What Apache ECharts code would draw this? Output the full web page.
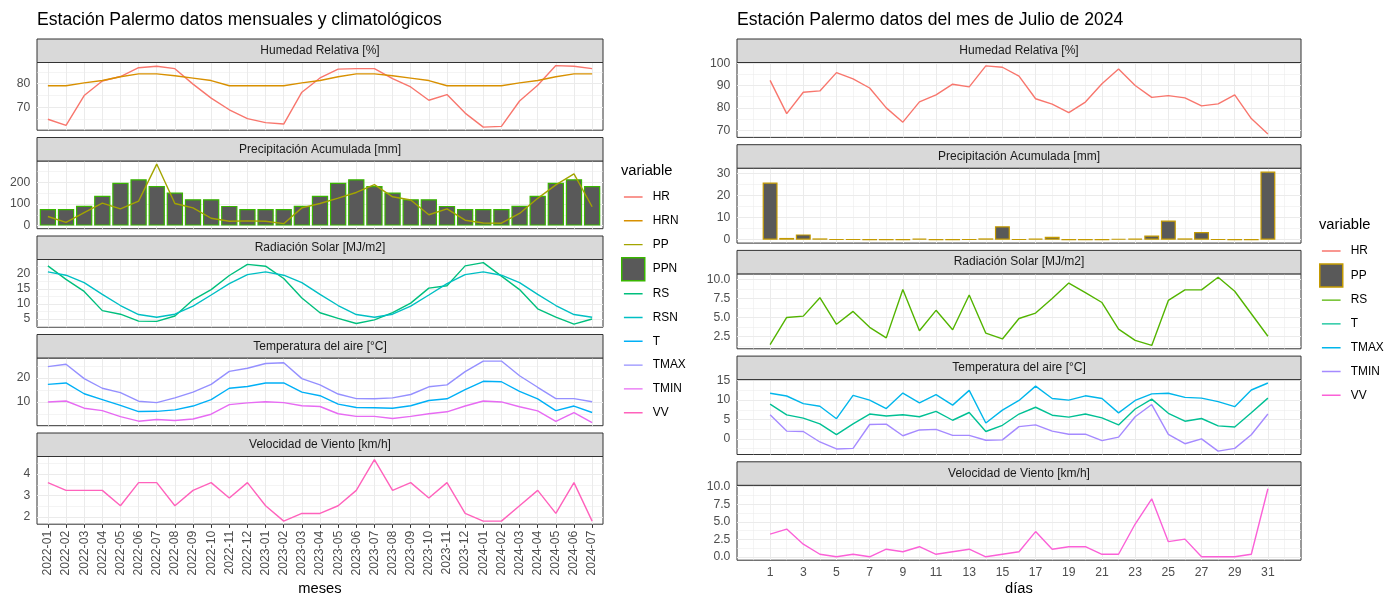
<!DOCTYPE html>
<html><head><meta charset="utf-8">
<script src="https://cdn.jsdelivr.net/npm/echarts@6/dist/echarts.min.js"></script>
<style>html,body{margin:0;padding:0;background:#fff}#c{width:1386px;height:595px}</style>
</head><body><div id="c"></div>
<script>
// ---------- DATA: monthly (left) ----------
const months = ['2022-01','2022-02','2022-03','2022-04','2022-05','2022-06','2022-07','2022-08','2022-09','2022-10','2022-11','2022-12','2023-01','2023-02','2023-03','2023-04','2023-05','2023-06','2023-07','2023-08','2023-09','2023-10','2023-11','2023-12','2024-01','2024-02','2024-03','2024-04','2024-05','2024-06','2024-07'];
const HR_m   = [65.0,62.4,75.0,81.1,83.0,86.7,87.3,86.3,79.8,73.9,69.0,65.3,63.6,63.0,76.4,82.4,86.1,86.3,86.3,82.1,78.6,73.0,75.4,67.6,61.7,62.0,72.7,79.3,87.6,87.3,86.3];
const HRN_m  = [79.1,79.1,80.3,81.3,82.9,84.1,84.1,83.3,82.3,81.3,79.1,79.1,79.1,79.1,80.3,81.3,82.9,84.1,84.1,83.3,82.3,81.3,79.1,79.1,79.1,79.1,80.3,81.3,82.9,84.1,84.1];
const PP_m   = [42,15,60,104,77,113,284,102,82,34,20,22,20,9,82,102,127,153,189,133,118,50,77,25,12,11,56,126,188,239,87];
const PPN_m  = [77,77,92,138,198,214,183,153,122,122,91,77,77,77,92,138,198,214,183,153,122,122,91,77,77,77,92,138,198,214,183];
const RS_m   = [22.7,18.2,14.2,7.8,6.6,4.3,4.2,6.0,11.4,14.8,19.5,23.2,22.6,18.5,12.0,7.1,5.2,3.5,4.7,7.1,10.3,15.3,16.1,22.7,23.8,19.3,14.8,8.4,5.6,3.3,5.0];
const RSN_m  = [20.7,19.6,17.1,13.2,9.5,6.5,5.6,6.6,9.3,13.0,16.8,19.8,20.7,19.6,17.1,13.2,9.5,6.5,5.6,6.6,9.3,13.0,16.8,19.8,20.7,19.6,17.1,13.2,9.5,6.5,5.6];
const T_m    = [17.3,17.9,13.4,11.0,8.6,6.0,6.1,6.7,8.3,11.0,15.7,16.4,17.9,17.9,14.1,12.6,9.1,7.7,7.6,7.4,8.4,10.6,11.3,15.1,18.6,18.4,14.4,11.3,6.4,8.3,5.6];
const TMAX_m = [24.7,25.7,19.7,15.7,13.9,10.3,9.7,11.7,14.1,17.3,22.7,24.0,26.0,26.3,19.7,17.1,13.3,11.4,11.3,11.7,13.1,16.3,17.1,22.6,27.0,27.0,20.9,16.1,11.4,11.4,10.1];
const TMIN_m = [10.0,10.4,7.4,6.4,3.9,2.0,2.7,2.3,2.9,4.9,8.9,9.6,10.1,9.7,8.4,8.1,5.1,4.0,4.0,3.1,4.0,5.1,5.9,8.3,10.4,10.0,8.0,6.3,1.9,5.6,1.4];
const VV_m   = [3.6,3.24,3.24,3.24,2.52,3.6,3.6,2.52,3.24,3.6,2.88,3.6,2.52,1.8,2.16,2.16,2.52,3.24,4.68,3.24,3.6,2.88,3.6,2.16,1.8,1.8,2.52,3.24,2.16,3.6,1.8];

// ---------- DATA: daily July 2024 (right) ----------
const days   = [1,2,3,4,5,6,7,8,9,10,11,12,13,14,15,16,17,18,19,20,21,22,23,24,25,26,27,28,29,30,31];
const HR_d   = [92.3,77.4,87.0,87.6,95.8,93.0,88.9,80.0,73.6,82.7,85.8,90.6,89.4,98.8,98.2,94.2,84.1,81.7,77.9,82.6,90.8,97.4,90.0,84.7,85.5,84.5,80.9,81.8,85.8,75.2,68.3];
const PP_d   = [25.9,0.8,2.4,0.6,0.2,0.2,0.1,0.1,0.1,0.5,0.1,0.1,0.2,0.6,6.1,0.2,0.5,1.3,0.1,0.1,0.1,0.4,0.5,1.9,8.7,0.6,3.5,0.2,0.1,0.1,30.9];
const RS_d   = [1.39,4.98,5.16,7.58,4.08,5.78,3.68,2.29,8.65,3.23,5.92,3.36,7.94,2.91,2.15,4.84,5.56,7.49,9.51,8.25,6.95,3.45,1.97,1.30,7.22,8.61,8.61,10.27,8.43,5.47,2.51];
const TMAX_d = [11.75,11.05,9.1,8.4,5.2,11.2,10.0,7.8,11.8,9.3,11.4,8.7,12.5,4.1,7.4,9.9,13.6,10.4,10.0,11.1,10.4,6.7,9.9,11.6,11.75,10.7,10.5,9.6,8.3,12.6,14.4];
const T_d    = [8.95,6.2,5.35,3.85,1.1,3.85,6.4,5.9,6.2,5.7,7.1,4.8,6.8,1.9,3.5,6.4,8.15,6.1,5.6,6.4,5.4,3.6,7.7,10.25,6.6,4.55,5.25,3.35,3.05,6.75,10.5];
const TMIN_d = [6.2,2.0,1.9,-0.8,-2.6,-2.45,3.7,3.8,0.8,2.3,2.45,0.9,0.9,-0.35,-0.25,3.15,3.6,2.0,1.2,1.2,-0.45,0.45,5.7,8.85,1.15,-1.25,0.0,-3.15,-2.45,1.05,6.4];
const VV_d   = [3.24,3.96,1.8,0.36,0,0.36,0,1.08,0.72,1.44,0.36,0.72,1.08,0,0.36,0.72,3.6,1.08,1.44,1.44,0.36,0.36,4.68,8.28,2.16,2.52,0,0,0,0.36,9.72];

// ---------- tick values ----------
const dayTicks   = [1,3,5,7,9,11,13,15,17,19,21,23,25,27,29,31];
const dayMinor   = [0,2,4,6,8,10,12,14,16,18,20,22,24,26,28,30,32];
const monthTicks = [0,1,2,3,4,5,6,7,8,9,10,11,12,13,14,15,16,17,18,19,20,21,22,23,24,25,26,27,28,29,30];
const yHR_m = [70,80],        yHR_m_min = [65,75,85];
const yPP_m = [0,100,200],    yPP_m_min = [50,150,250];
const yRS_m = [5,10,15,20],   yRS_m_min = [2.5,7.5,12.5,17.5,22.5];
const yT_m  = [10,20],        yT_m_min  = [5,15,25];
const yVV_m = [2,3,4],        yVV_m_min = [2.5,3.5,4.5];
const yHR_d = [70,80,90,100], yHR_d_min = [75,85,95];
const yPP_d = [0,10,20,30],   yPP_d_min = [5,15,25];
const yRS_d = [2.5,5,7.5,10], yRS_d_min = [1.25,3.75,6.25,8.75];
const yT_d  = [0,5,10,15],    yT_d_min  = [-2.5,2.5,7.5,12.5];
const yVV_d = [0,2.5,5,7.5,10], yVV_d_min = [1.25,3.75,6.25,8.75];

// ---------- layout / style ----------
const FONT = '"Liberation Sans", Arial, Helvetica, sans-serif';
const TICK_FS = 12.2, STRIP_FS = 12;
const fmtInt = v => String(v);
const fmt1 = v => v.toFixed(1);
const LP = {x0:37, x1:603, top0:39, pitch:98.5, stripH:23.5, panelH:67.7};
const RP = {x0:737, x1:1301, top0:39, pitch:105.7, stripH:23.5, panelH:74.9};

const leftFacets = [
  {title:'Humedad Relativa [%]', lines:[['HR',HR_m,'#F8766D'],['HRN',HRN_m,'#D89000']], major:yHR_m, minor:yHR_m_min, fmt:fmtInt},
  {title:'Precipitación Acumulada [mm]', bar:['PPN',PPN_m,'#39B600'], lines:[['PP',PP_m,'#A3A500']], major:yPP_m, minor:yPP_m_min, fmt:fmtInt},
  {title:'Radiación Solar [MJ/m2]', lines:[['RS',RS_m,'#00BF7D'],['RSN',RSN_m,'#00BFC4']], major:yRS_m, minor:yRS_m_min, fmt:fmtInt},
  {title:'Temperatura del aire [°C]', lines:[['T',T_m,'#00B0F6'],['TMAX',TMAX_m,'#9590FF'],['TMIN',TMIN_m,'#E76BF3']], major:yT_m, minor:yT_m_min, fmt:fmtInt},
  {title:'Velocidad de Viento [km/h]', lines:[['VV',VV_m,'#FF62BC']], major:yVV_m, minor:yVV_m_min, fmt:fmtInt}
];
const rightFacets = [
  {title:'Humedad Relativa [%]', lines:[['d:HR',HR_d,'#F8766D']], major:yHR_d, minor:yHR_d_min, fmt:fmtInt},
  {title:'Precipitación Acumulada [mm]', bar:['d:PP',PP_d,'#C49A00'], lines:[], major:yPP_d, minor:yPP_d_min, fmt:fmtInt},
  {title:'Radiación Solar [MJ/m2]', lines:[['d:RS',RS_d,'#53B400']], major:yRS_d, minor:yRS_d_min, fmt:fmt1},
  {title:'Temperatura del aire [°C]', lines:[['d:T',T_d,'#00C094'],['d:TMAX',TMAX_d,'#00B6EB'],['d:TMIN',TMIN_d,'#A58AFF']], major:yT_d, minor:yT_d_min, fmt:fmtInt},
  {title:'Velocidad de Viento [km/h]', lines:[['d:VV',VV_d,'#FB61D7']], major:yVV_d, minor:yVV_d_min, fmt:fmt1}
];

function yRange(arrs, withZero){
  let mn = Infinity, mx = -Infinity;
  arrs.forEach(a => a.forEach(v => { if (v < mn) mn = v; if (v > mx) mx = v; }));
  if (withZero) { mn = Math.min(mn, 0); mx = Math.max(mx, 0); }
  const r = mx - mn;
  return [mn - 0.05*r, mx + 0.05*r];
}

const grids = [], xAxes = [], yAxes = [], series = [], graphics = [];

function addPanel(P, facets, xVals, xmin, xmax, xLab, xLabFmt, xMajor, xMinor, rotate){
  const W = P.x1 - P.x0;
  const barW = 0.9 * W / (xmax - xmin);
  facets.forEach((f, k) => {
    const gi = grids.length;
    const stripTop = P.top0 + k*P.pitch;
    const top = stripTop + P.stripH;
    const last = k === facets.length - 1;
    grids.push({left:P.x0, top:top, width:W, height:P.panelH, show:true, backgroundColor:'#ffffff',
      borderColor:'#333333', borderWidth:1, containLabel:false, outerBoundsMode:'none'});
    xAxes.push({type:'value', gridIndex:gi, min:xmin, max:xmax, splitLine:{show:false}, axisLine:{show:false},
      axisTick:{show:last, customValues:xLab, length:3.7, lineStyle:{color:'#333333', width:1}},
      axisLabel:{show:last, customValues:xLab, formatter:xLabFmt, rotate:rotate, margin:6.6,
        color:'#4D4D4D', fontSize:TICK_FS, fontFamily:FONT}});
    const arrs = f.lines.map(l => l[1]).concat(f.bar ? [f.bar[1]] : []);
    const yr = yRange(arrs, !!f.bar);
    yAxes.push({type:'value', gridIndex:gi, min:yr[0], max:yr[1], splitLine:{show:false}, axisLine:{show:false},
      axisTick:{show:true, customValues:f.major, length:3.7, lineStyle:{color:'#333333', width:1}},
      axisLabel:{customValues:f.major, formatter:f.fmt, margin:6.6, color:'#4D4D4D', fontSize:TICK_FS, fontFamily:FONT}});
    const ml = [];
    f.minor.filter(v => v > yr[0] && v < yr[1]).forEach(v => ml.push({yAxis:v, lineStyle:{width:0.55}}));
    xMinor.filter(v => v > xmin && v < xmax).forEach(v => ml.push({xAxis:v, lineStyle:{width:0.55}}));
    f.major.filter(v => v > yr[0] && v < yr[1]).forEach(v => ml.push({yAxis:v, lineStyle:{width:1.05}}));
    xMajor.forEach(v => ml.push({xAxis:v, lineStyle:{width:1.05}}));
    series.push({type:'line', name:'_grid'+gi, xAxisIndex:gi, yAxisIndex:gi, data:[], z:1, silent:true, animation:false,
      markLine:{silent:true, z:1, animation:false, symbol:['none','none'], label:{show:false},
        emphasis:{disabled:true}, lineStyle:{color:'#EBEBEB', type:'solid'}, data:ml}});
    if (f.bar) {
      series.push({type:'bar', name:f.bar[0], xAxisIndex:gi, yAxisIndex:gi, barWidth:barW, z:2, animation:false,
        data:xVals.map((x,i) => [x, f.bar[1][i]]),
        itemStyle:{color:'#595959', borderColor:f.bar[2], borderWidth:1.2}});
    }
    f.lines.forEach(l => {
      series.push({type:'line', name:l[0], xAxisIndex:gi, yAxisIndex:gi, z:3, animation:false,
        showSymbol:false, symbol:'none', data:xVals.map((x,i) => [x, l[1][i]]),
        lineStyle:{color:l[2], width:1.4}, itemStyle:{color:l[2]}});
    });
    graphics.push({type:'rect', silent:true, z:10, shape:{x:P.x0, y:stripTop, width:W, height:P.stripH},
      style:{fill:'#D9D9D9', stroke:'#333333', lineWidth:1}});
    graphics.push({type:'text', silent:true, z:11, x:(P.x0+P.x1)/2, y:stripTop + P.stripH/2,
      style:{text:f.title, fill:'#1A1A1A', font:STRIP_FS+'px '+FONT, align:'center', verticalAlign:'middle',
        textAlign:'center', textVerticalAlign:'middle'}});
  });
}

const monthIdx = months.map((m,i) => i);
addPanel(LP, leftFacets, monthIdx, -0.6, months.length - 1 + 0.6, monthTicks,
  v => months[Math.round(v)], monthTicks, [], 90);
const dxmin = 0.55 - 0.05*30.9, dxmax = 31.45 + 0.05*30.9;
addPanel(RP, rightFacets, days, dxmin, dxmax, dayTicks, fmtInt, dayTicks, dayMinor, 0);

function txt(text, x, y, size, align){
  return {type:'text', silent:true, z:11, x:x, y:y,
    style:{text:text, fill:'#000000', font:size+'px '+FONT, align:align, verticalAlign:'middle',
      textAlign:align, textVerticalAlign:'middle'}};
}
graphics.push(txt('meses', (LP.x0+LP.x1)/2, 589, 14.7, 'center'));
graphics.push(txt('días', (RP.x0+RP.x1)/2, 589, 14.7, 'center'));
graphics.push(txt('variable', 621, 171, 14.7, 'left'));
graphics.push(txt('variable', 1319, 225, 14.7, 'left'));

// thin line key; the degenerate sub-paths stretch the key's bounding box to the full key size
const linePath = 'path://M-2,-11L-2,-11Z M0,0L19,0L19,1.4L0,1.4Z M21,12.4L21,12.4Z';
function legItems(list){
  return list.map(it => it.box
    ? {name:it.name, icon:'rect', itemStyle:{color:'#595959', borderColor:it.color, borderWidth:1.5}}
    : {name:it.name, icon:linePath, itemStyle:{color:it.color, borderWidth:0}});
}
const legendCommon = {orient:'vertical', itemWidth:23, itemHeight:23, itemGap:0.8, padding:0, selectedMode:false,
  formatter: n => n.replace('d:',''), textStyle:{color:'#000000', fontSize:11.9, fontFamily:FONT, padding:[0,0,0,3]}};

const option = {
  animation:false,
  backgroundColor:'#ffffff',
  title:[
    {text:'Estación Palermo datos mensuales y climatológicos', left:37, top:11, padding:0,
      textStyle:{fontSize:17.6, fontWeight:'normal', color:'#000000', fontFamily:FONT}},
    {text:'Estación Palermo datos del mes de Julio de 2024', left:737, top:11, padding:0,
      textStyle:{fontSize:17.6, fontWeight:'normal', color:'#000000', fontFamily:FONT}}
  ],
  legend:[
    Object.assign({}, legendCommon, {left:621, top:185.5, data:legItems([
      {name:'HR',color:'#F8766D'},{name:'HRN',color:'#D89000'},{name:'PP',color:'#A3A500'},
      {name:'PPN',color:'#39B600',box:true},{name:'RS',color:'#00BF7D'},{name:'RSN',color:'#00BFC4'},
      {name:'T',color:'#00B0F6'},{name:'TMAX',color:'#9590FF'},{name:'TMIN',color:'#E76BF3'},{name:'VV',color:'#FF62BC'}])}),
    Object.assign({}, legendCommon, {left:1319, top:239.5, data:legItems([
      {name:'d:HR',color:'#F8766D'},{name:'d:PP',color:'#C49A00',box:true},{name:'d:RS',color:'#53B400'},
      {name:'d:T',color:'#00C094'},{name:'d:TMAX',color:'#00B6EB'},{name:'d:TMIN',color:'#A58AFF'},{name:'d:VV',color:'#FB61D7'}])})
  ],
  grid:grids, xAxis:xAxes, yAxis:yAxes, series:series, graphic:graphics
};
const chart = echarts.init(document.getElementById('c'));
chart.setOption(option);
</script>
</body></html>
